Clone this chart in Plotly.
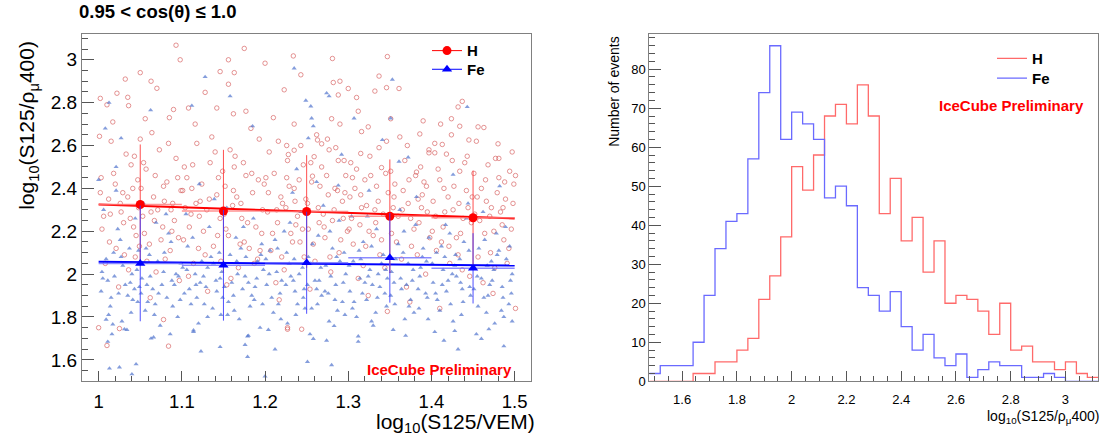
import plotly.graph_objects as go

# ---------------- data: left panel (profile + scatter) ----------------
bin_centers = [1.05, 1.15, 1.25, 1.35, 1.45]
bin_half_width = [0.05, 0.05, 0.05, 0.05, 0.05]
h_mean = [2.325, 2.294, 2.292, 2.270, 2.263]
h_err = [0.280, 0.286, 0.263, 0.265, 0.220]
fe_mean = [2.050, 2.041, 2.053, 2.076, 2.027]
fe_err = [0.270, 0.258, 0.238, 0.209, 0.164]

fit_x = [1.0, 1.5]
h_fit_y = [2.325, 2.260]
fe_fit_y = [2.058, 2.040]

h_points = [
    (1.093, 3.068), (1.098, 3.0), (1.175, 3.053), (1.156, 3.0), (1.05, 2.94), (1.032, 2.91),
    (1.002, 2.82), (1.063, 2.90), (1.07, 2.867), (1.146, 2.945), (1.163, 2.94), (1.156, 2.886),
    (1.128, 2.848), (1.035, 2.825), (1.022, 2.844), (1.036, 2.786), (1.010, 2.79), (1.056, 2.725),
    (1.001, 2.643), (1.05, 2.63), (1.085, 2.73), (1.09, 2.768), (1.108, 2.775), (1.142, 2.775),
    (1.162, 2.748), (1.177, 2.76), (1.2, 2.984), (1.21, 2.73), (1.223, 2.86), (1.234, 3.018),
    (1.235, 2.578), (1.281, 3.006), (1.347, 3.015), (1.243, 2.93), (1.282, 2.894), (1.29, 2.90),
    (1.30, 2.866), (1.337, 2.924), (1.346, 2.87), (1.361, 2.866), (1.332, 2.854), (1.288, 2.836),
    (1.31, 2.824), (1.312, 2.76), (1.28, 2.725), (1.351, 2.725), (1.235, 2.70), (1.29, 2.70),
    (1.324, 2.687), (1.316, 2.665), (1.437, 2.806), (1.432, 2.78), (1.424, 2.725), (1.39, 2.715),
    (1.411, 2.70), (1.434, 2.69), (1.456, 2.687), (1.463, 2.684), (1.445, 2.626), (1.48, 2.608),
    (1.386, 2.654), (1.413, 2.605), (1.397, 2.566), (1.404, 2.566), (1.501, 2.46), (1.481, 2.54),
    (1.382, 2.476), (1.263, 2.626), (1.268, 2.608), (1.226, 2.60), (1.259, 2.548), (1.277, 2.58),
    (1.295, 2.53), (1.303, 2.52), (1.315, 2.563), (1.34, 2.497), (1.257, 2.457), (1.228, 2.558),
    (1.0, 1.75), (1.01, 1.667), (1.084, 1.664), (1.025, 1.746), (1.227, 1.743), (1.078, 1.788),
    (1.227, 1.75), (1.244, 1.743), (1.347, 1.826), (1.41, 1.84), (1.501, 1.84),
    (1.004, 2.21), (1.012, 2.35), (1.018, 2.47), (1.021, 2.12), (1.027, 2.29), (1.033, 2.56),
    (1.036, 2.02), (1.041, 2.40), (1.045, 2.18), (1.048, 2.31), (1.008, 2.05), (1.015, 2.62),
    (1.024, 1.94), (1.030, 2.24), (1.039, 2.51), (1.044, 2.08), (1.002, 2.38), (1.047, 2.44),
    (1.053, 2.27), (1.057, 2.49), (1.061, 2.14), (1.066, 2.36), (1.069, 2.01), (1.073, 2.58),
    (1.077, 2.22), (1.082, 2.43), (1.086, 2.11), (1.089, 2.33), (1.093, 2.54), (1.097, 1.97),
    (1.055, 2.19), (1.064, 2.66), (1.071, 2.30), (1.080, 2.07), (1.091, 2.25), (1.099, 2.39),
    (1.102, 2.16), (1.106, 2.45), (1.111, 2.28), (1.114, 2.05), (1.118, 2.61), (1.122, 2.34),
    (1.126, 2.20), (1.131, 1.92), (1.134, 2.52), (1.138, 2.13), (1.142, 2.37), (1.146, 2.26),
    (1.149, 2.48), (1.104, 2.31), (1.116, 2.70), (1.128, 2.09), (1.140, 2.57), (1.108, 1.99),
    (1.152, 2.41), (1.156, 2.18), (1.161, 2.32), (1.164, 2.55), (1.168, 2.03), (1.172, 2.26),
    (1.177, 2.46), (1.181, 2.12), (1.185, 2.38), (1.189, 2.22), (1.193, 2.63), (1.197, 2.30),
    (1.154, 1.95), (1.163, 2.50), (1.175, 2.15), (1.183, 2.68), (1.191, 2.07), (1.199, 2.42),
    (1.203, 2.29), (1.207, 2.11), (1.211, 2.47), (1.215, 2.24), (1.219, 2.36), (1.223, 2.02),
    (1.227, 2.53), (1.231, 2.19), (1.235, 2.40), (1.239, 2.27), (1.243, 2.60), (1.247, 2.08),
    (1.205, 2.57), (1.213, 1.96), (1.221, 2.33), (1.233, 2.15), (1.241, 2.44), (1.249, 2.35),
    (1.252, 2.21), (1.256, 2.43), (1.260, 2.06), (1.264, 2.31), (1.268, 2.50), (1.272, 2.17),
    (1.276, 2.37), (1.281, 2.25), (1.285, 2.59), (1.289, 2.10), (1.293, 2.34), (1.297, 2.46),
    (1.254, 1.93), (1.262, 2.65), (1.270, 2.28), (1.279, 2.01), (1.287, 2.39), (1.299, 2.20),
    (1.302, 2.36), (1.306, 2.14), (1.310, 2.49), (1.314, 2.23), (1.318, 2.04), (1.322, 2.32),
    (1.326, 2.55), (1.330, 2.18), (1.334, 2.41), (1.338, 2.09), (1.342, 2.28), (1.346, 2.62),
    (1.304, 2.26), (1.312, 1.98), (1.320, 2.44), (1.332, 2.30), (1.340, 2.16), (1.348, 2.38),
    (1.352, 2.19), (1.356, 2.42), (1.360, 2.27), (1.364, 2.07), (1.368, 2.53), (1.372, 2.33),
    (1.376, 2.13), (1.381, 2.46), (1.385, 2.24), (1.389, 2.37), (1.393, 2.00), (1.397, 2.58),
    (1.354, 2.31), (1.362, 2.64), (1.370, 1.94), (1.379, 2.21), (1.387, 2.50), (1.395, 2.29),
    (1.402, 2.34), (1.406, 2.11), (1.410, 2.44), (1.414, 2.22), (1.418, 2.56), (1.422, 2.05),
    (1.426, 2.30), (1.430, 2.17), (1.434, 2.48), (1.438, 2.26), (1.442, 2.39), (1.446, 1.99),
    (1.404, 2.61), (1.412, 2.15), (1.420, 2.36), (1.432, 2.09), (1.440, 2.52), (1.448, 2.24),
    (1.452, 2.28), (1.456, 2.08), (1.460, 2.40), (1.464, 2.19), (1.468, 2.51), (1.472, 2.31),
    (1.476, 2.03), (1.481, 2.45), (1.485, 2.23), (1.489, 2.35), (1.493, 2.12), (1.497, 2.57),
    (1.454, 2.62), (1.462, 1.96), (1.470, 2.27), (1.479, 2.38), (1.487, 2.16), (1.499, 2.42),
    (1.006, 2.27), (1.013, 2.15), (1.020, 2.42), (1.026, 2.33), (1.031, 2.09), (1.038, 2.26),
    (1.043, 2.55), (1.049, 2.13), (1.017, 2.71), (1.035, 2.36),
    (1.051, 2.40), (1.058, 2.06), (1.063, 2.29), (1.068, 2.46), (1.075, 2.16), (1.079, 2.34),
    (1.084, 2.61), (1.088, 2.20), (1.095, 2.45), (1.062, 1.89),
    (1.101, 2.39), (1.109, 2.22), (1.113, 2.51), (1.120, 2.12), (1.124, 2.42), (1.130, 2.30),
    (1.136, 2.64), (1.143, 2.18), (1.147, 2.06), (1.117, 2.33),
    (1.151, 2.28), (1.158, 2.58), (1.166, 2.36), (1.170, 2.14), (1.174, 2.52), (1.179, 2.24),
    (1.187, 2.05), (1.192, 2.44), (1.196, 2.19), (1.159, 1.98),
    (1.201, 2.45), (1.209, 2.19), (1.216, 2.62), (1.220, 2.08), (1.225, 2.31), (1.229, 2.41),
    (1.237, 2.23), (1.242, 2.15), (1.246, 2.51), (1.217, 1.88),
    (1.251, 2.33), (1.258, 2.14), (1.266, 2.41), (1.271, 2.22), (1.275, 2.63), (1.283, 2.30),
    (1.288, 2.53), (1.291, 2.16), (1.296, 2.38), (1.278, 2.08),
    (1.301, 2.21), (1.308, 2.40), (1.316, 2.31), (1.321, 2.13), (1.327, 2.46), (1.333, 2.24),
    (1.337, 2.59), (1.344, 2.03), (1.349, 2.27), (1.324, 1.90),
    (1.351, 2.48), (1.358, 2.15), (1.366, 2.39), (1.371, 2.60), (1.375, 2.26), (1.383, 2.09),
    (1.388, 2.31), (1.391, 2.43), (1.398, 2.17), (1.374, 1.87),
    (1.401, 2.20), (1.408, 2.49), (1.416, 2.29), (1.421, 2.13), (1.427, 2.41), (1.433, 2.33),
    (1.437, 2.02), (1.443, 2.55), (1.449, 2.36), (1.424, 2.65),
    (1.451, 2.47), (1.458, 2.25), (1.466, 2.34), (1.471, 2.10), (1.477, 2.54), (1.483, 2.29),
    (1.488, 2.43), (1.491, 2.05), (1.496, 2.21), (1.474, 1.91),
    (1.003, 2.45), (1.014, 2.28), (1.029, 2.38), (1.042, 2.22), (1.054, 2.52), (1.067, 2.25),
    (1.078, 2.41), (1.087, 2.30), (1.096, 2.17), (1.103, 2.50), (1.112, 2.40), (1.121, 2.27),
    (1.133, 2.35), (1.144, 2.45), (1.153, 2.21), (1.162, 2.39), (1.171, 2.33), (1.184, 2.47),
    (1.194, 2.11), (1.204, 2.38), (1.214, 2.30), (1.226, 2.45), (1.236, 2.34), (1.245, 2.21),
    (1.255, 2.52), (1.265, 2.24), (1.274, 2.46), (1.284, 2.40), (1.294, 2.26), (1.305, 2.45),
    (1.315, 2.37), (1.325, 2.20), (1.336, 2.34), (1.345, 2.47), (1.355, 2.36), (1.365, 2.30),
    (1.373, 2.44), (1.384, 2.35), (1.394, 2.41), (1.405, 2.27), (1.415, 2.40), (1.425, 2.53),
    (1.435, 2.19), (1.444, 2.31), (1.455, 2.36), (1.465, 2.44), (1.475, 2.20), (1.486, 2.31),
    (1.494, 2.48), (1.498, 2.33),
]

fe_points = [
    (1.128, 2.92), (1.158, 2.83), (1.0625, 2.765), (1.0125, 2.80), (1.185, 2.69), (1.235, 2.96),
    (1.112, 2.786), (1.008, 2.68), (1.027, 2.634), (1.021, 2.50), (1.0, 2.44),
    (1.353, 2.908), (1.274, 2.844), (1.277, 2.83), (1.249, 2.81), (1.255, 2.783), (1.256, 2.727),
    (1.258, 2.69), (1.307, 2.727), (1.351, 2.727), (1.443, 2.78), (1.341, 2.626), (1.252, 2.634),
    (1.292, 2.558), (1.372, 2.545), (1.361, 2.525), (1.426, 2.464), (1.238, 2.49), (1.262, 2.43),
    (1.288, 2.414),
    (1.013, 1.56), (1.025, 1.565), (1.04, 1.533), (1.045, 1.58), (1.011, 1.685), (1.179, 1.614),
    (1.2, 1.523), (1.212, 1.649), (1.123, 1.64), (1.146, 1.66), (1.18, 1.713), (1.066, 1.705),
    (1.114, 1.738), (1.009, 1.788), (1.017, 1.766), (1.031, 1.743),
    (1.251, 1.591), (1.28, 1.576), (1.312, 1.685), (1.432, 1.649), (1.46, 1.698), (1.487, 1.664),
    (1.258, 1.698), (1.369, 1.713), (1.428, 1.735), (1.469, 1.743), (1.497, 1.78), (1.283, 1.758),
    (1.328, 1.78),
    (1.003, 1.92), (1.009, 2.07), (1.014, 1.85), (1.019, 1.99), (1.023, 2.21), (1.028, 1.78),
    (1.032, 1.95), (1.037, 2.12), (1.041, 1.88), (1.046, 2.02), (1.006, 2.30), (1.016, 1.72),
    (1.026, 2.16), (1.035, 1.90), (1.044, 2.26), (1.011, 1.97), (1.039, 1.82), (1.049, 1.94),
    (1.052, 1.98), (1.056, 1.83), (1.061, 2.09), (1.065, 1.93), (1.069, 2.24), (1.074, 1.76),
    (1.078, 2.01), (1.082, 1.89), (1.087, 2.15), (1.091, 1.95), (1.095, 1.80), (1.099, 2.05),
    (1.054, 2.33), (1.063, 1.70), (1.072, 1.91), (1.084, 2.19), (1.093, 2.00), (1.059, 1.87),
    (1.103, 1.91), (1.107, 2.13), (1.111, 1.86), (1.116, 2.00), (1.120, 1.77), (1.124, 2.06),
    (1.129, 1.94), (1.133, 2.22), (1.137, 1.84), (1.141, 1.97), (1.145, 2.10), (1.149, 1.89),
    (1.105, 2.28), (1.114, 1.73), (1.122, 1.96), (1.131, 2.03), (1.139, 2.35), (1.147, 1.81),
    (1.152, 2.04), (1.156, 1.87), (1.160, 1.96), (1.165, 2.17), (1.169, 1.79), (1.173, 1.93),
    (1.177, 2.08), (1.182, 1.85), (1.186, 2.26), (1.190, 1.98), (1.194, 1.75), (1.198, 2.02),
    (1.154, 2.31), (1.162, 1.90), (1.171, 2.12), (1.179, 1.71), (1.188, 1.94), (1.196, 2.14),
    (1.202, 1.95), (1.206, 2.11), (1.210, 1.82), (1.214, 2.01), (1.218, 1.91), (1.223, 2.20),
    (1.227, 1.77), (1.231, 1.99), (1.235, 2.07), (1.239, 1.86), (1.243, 2.29), (1.247, 1.93),
    (1.204, 1.74), (1.212, 2.16), (1.220, 1.97), (1.229, 2.05), (1.237, 1.81), (1.245, 2.03),
    (1.252, 2.08), (1.256, 1.84), (1.260, 1.97), (1.264, 2.18), (1.268, 1.90), (1.273, 2.04),
    (1.277, 1.78), (1.281, 2.12), (1.285, 1.95), (1.289, 2.25), (1.293, 1.87), (1.297, 2.00),
    (1.254, 1.72), (1.262, 1.93), (1.270, 2.32), (1.279, 1.99), (1.287, 1.83), (1.295, 2.10),
    (1.302, 1.92), (1.306, 2.06), (1.310, 1.80), (1.314, 1.98), (1.318, 2.15), (1.322, 1.88),
    (1.326, 2.02), (1.330, 1.76), (1.334, 2.21), (1.338, 1.94), (1.342, 2.09), (1.346, 1.85),
    (1.304, 2.27), (1.312, 1.71), (1.320, 1.96), (1.328, 2.13), (1.336, 2.00), (1.344, 1.91),
    (1.352, 2.01), (1.356, 1.86), (1.360, 2.14), (1.364, 1.93), (1.368, 1.79), (1.372, 2.05),
    (1.377, 1.97), (1.381, 2.23), (1.385, 1.84), (1.389, 2.08), (1.393, 1.91), (1.397, 2.17),
    (1.354, 1.74), (1.362, 2.30), (1.370, 1.95), (1.379, 1.82), (1.387, 2.03), (1.395, 1.89),
    (1.402, 1.96), (1.406, 2.10), (1.410, 1.83), (1.414, 2.02), (1.418, 1.92), (1.422, 2.19),
    (1.426, 1.78), (1.430, 1.99), (1.434, 2.07), (1.438, 1.87), (1.442, 2.26), (1.446, 1.94),
    (1.404, 1.73), (1.412, 2.13), (1.420, 1.97), (1.428, 2.04), (1.436, 1.81), (1.444, 2.33),
    (1.452, 2.03), (1.456, 1.85), (1.460, 1.98), (1.464, 2.16), (1.468, 1.90), (1.472, 2.06),
    (1.476, 1.77), (1.481, 2.11), (1.485, 1.94), (1.489, 2.22), (1.493, 1.86), (1.497, 2.00),
    (1.454, 1.72), (1.462, 2.29), (1.470, 1.95), (1.479, 2.09), (1.487, 1.80), (1.495, 1.97),
    (1.005, 1.98), (1.012, 1.81), (1.018, 2.10), (1.024, 1.91), (1.029, 2.04), (1.034, 1.74),
    (1.040, 2.00), (1.047, 1.87), (1.021, 2.39), (1.043, 1.93),
    (1.051, 1.91), (1.057, 2.12), (1.062, 1.99), (1.067, 1.81), (1.071, 2.06), (1.076, 1.95),
    (1.081, 2.28), (1.089, 1.85), (1.096, 1.99), (1.086, 1.72),
    (1.101, 2.03), (1.109, 1.93), (1.113, 2.17), (1.118, 1.89), (1.126, 1.99), (1.131, 1.80),
    (1.135, 2.08), (1.142, 1.92), (1.148, 2.01), (1.121, 2.42),
    (1.151, 1.94), (1.158, 2.09), (1.163, 1.83), (1.167, 2.00), (1.174, 2.22), (1.180, 1.96),
    (1.184, 1.90), (1.191, 2.06), (1.197, 1.86), (1.176, 1.67),
    (1.201, 2.07), (1.208, 1.89), (1.215, 2.12), (1.219, 1.79), (1.225, 1.95), (1.230, 2.24),
    (1.236, 1.92), (1.241, 2.00), (1.248, 1.84), (1.233, 2.38),
    (1.251, 1.95), (1.257, 2.14), (1.263, 1.86), (1.267, 2.03), (1.272, 1.92), (1.278, 2.20),
    (1.284, 1.88), (1.290, 2.06), (1.296, 1.81), (1.274, 1.69),
    (1.301, 2.04), (1.307, 1.87), (1.313, 2.11), (1.317, 1.91), (1.323, 2.27), (1.329, 1.95),
    (1.333, 1.82), (1.340, 2.05), (1.347, 1.98), (1.325, 2.39),
    (1.351, 1.90), (1.357, 2.07), (1.363, 1.98), (1.367, 2.20), (1.373, 1.85), (1.378, 2.02),
    (1.384, 1.93), (1.390, 2.12), (1.396, 1.79), (1.382, 2.36),
    (1.401, 2.05), (1.407, 1.88), (1.413, 1.95), (1.417, 2.23), (1.423, 1.86), (1.429, 2.09),
    (1.435, 1.96), (1.439, 2.15), (1.447, 1.90), (1.415, 1.69),
    (1.451, 1.93), (1.457, 2.12), (1.463, 1.89), (1.467, 2.04), (1.473, 1.97), (1.478, 2.19),
    (1.484, 1.83), (1.490, 2.07), (1.496, 1.91), (1.482, 2.41),
    (1.004, 2.01), (1.015, 1.89), (1.027, 2.08), (1.038, 1.96), (1.048, 2.11), (1.058, 1.95),
    (1.068, 1.86), (1.079, 2.10), (1.088, 1.97), (1.098, 1.88), (1.106, 2.02), (1.117, 1.95),
    (1.127, 1.86), (1.138, 2.05), (1.146, 1.98), (1.155, 1.81), (1.166, 2.06), (1.176, 1.99),
    (1.187, 1.88), (1.195, 2.09), (1.205, 2.00), (1.216, 1.86), (1.226, 2.10), (1.234, 1.97),
    (1.246, 1.89), (1.255, 2.05), (1.265, 1.97), (1.276, 1.91), (1.286, 2.08), (1.294, 1.96),
    (1.305, 1.84), (1.315, 2.07), (1.324, 1.99), (1.335, 1.89), (1.345, 2.02), (1.355, 1.96),
    (1.366, 2.10), (1.375, 1.88), (1.386, 1.99), (1.394, 2.06), (1.405, 1.91), (1.416, 2.08),
    (1.425, 2.00), (1.437, 1.93), (1.445, 2.11), (1.455, 1.99), (1.466, 1.82), (1.475, 2.02),
    (1.486, 1.89), (1.494, 2.13),
]

# ---------------- data: right panel (histograms) ----------------
hist_edges_start = 1.48
hist_bin_width = 0.04
h_counts = [0, 0, 0, 0, 2, 2, 5, 5, 8, 11, 21, 27, 37, 55, 49, 58, 68, 71, 66, 76, 68, 43, 52,
            36, 42, 28, 36, 20, 22, 21, 18, 12, 20, 8, 9, 5, 5, 3, 5, 2, 1]
fe_counts = [2, 4, 4, 4, 10, 22, 34, 41, 43, 57, 74, 86, 62, 69, 66, 62, 47, 50, 45, 24, 22, 18,
             23, 14, 8, 12, 6, 4, 7, 1, 3, 5, 4, 4, 1, 1, 2, 1, 0, 0, 0]

# ---------------- styling ----------------
RED = "#ff0000"
BLUE = "#0000ff"
H_SCAT = "rgba(215,95,95,0.75)"
FE_SCAT = "rgba(80,115,205,0.7)"
H_HIST = "#ff6a6a"
FE_HIST = "#6a6aff"
FONT = "Liberation Sans"
W, H = 1105, 443

def px(v):
    return v / W

def py(v):
    return 1 - v / H

fig = go.Figure()

# scatter clouds
fig.add_trace(go.Scatter(
    x=[p[0] for p in h_points], y=[p[1] for p in h_points], mode="markers",
    marker=dict(symbol="circle-open", size=4.5, color=H_SCAT, line=dict(width=0.9)),
    showlegend=False, hoverinfo="skip", xaxis="x", yaxis="y"))
fig.add_trace(go.Scatter(
    x=[p[0] for p in fe_points], y=[p[1] for p in fe_points], mode="markers",
    marker=dict(symbol="triangle-up", size=4.5, color=FE_SCAT),
    showlegend=False, hoverinfo="skip", xaxis="x", yaxis="y"))

# fit lines
fig.add_trace(go.Scatter(x=fit_x, y=h_fit_y, mode="lines", line=dict(color=RED, width=2),
                         showlegend=False, xaxis="x", yaxis="y"))
fig.add_trace(go.Scatter(x=fit_x, y=fe_fit_y, mode="lines", line=dict(color=BLUE, width=2),
                         showlegend=False, xaxis="x", yaxis="y"))

# profiles
fig.add_trace(go.Scatter(
    x=bin_centers, y=h_mean, mode="markers",
    marker=dict(symbol="circle", size=9, color=RED),
    error_y=dict(type="data", array=h_err, color="rgba(255,60,60,0.9)", thickness=1, width=0),
    error_x=dict(type="data", array=bin_half_width, color="rgba(255,120,120,0.8)", thickness=1.5, width=0),
    showlegend=False, xaxis="x", yaxis="y"))
fig.add_trace(go.Scatter(
    x=bin_centers, y=fe_mean, mode="markers",
    marker=dict(symbol="triangle-up", size=9, color=BLUE),
    error_y=dict(type="data", array=fe_err, color="rgba(60,60,255,0.9)", thickness=1, width=0),
    error_x=dict(type="data", array=bin_half_width, color="rgba(110,110,255,0.8)", thickness=1.5, width=0),
    showlegend=False, xaxis="x", yaxis="y"))

# left legend entries (one legend box per entry for exact spacing)
fig.add_trace(go.Scatter(x=[None], y=[None], mode="lines+markers", name="H",
                         marker=dict(symbol="circle", size=9, color=RED),
                         line=dict(color=RED, width=1), legend="legend", xaxis="x", yaxis="y"))
fig.add_trace(go.Scatter(x=[None], y=[None], mode="lines+markers", name="Fe",
                         marker=dict(symbol="triangle-up", size=9, color=BLUE),
                         line=dict(color=BLUE, width=1), legend="legend3", xaxis="x", yaxis="y"))

# histograms as steps
edges = [round(hist_edges_start + i * hist_bin_width, 4) for i in range(len(h_counts) + 1)]
fig.add_trace(go.Scatter(x=edges, y=h_counts + [h_counts[-1]], mode="lines", line_shape="hv",
                         line=dict(color=H_HIST, width=1.3), name="H", legend="legend2",
                         xaxis="x2", yaxis="y2"))
fig.add_trace(go.Scatter(x=edges, y=fe_counts + [fe_counts[-1]], mode="lines", line_shape="hv",
                         line=dict(color=FE_HIST, width=1.3), name="Fe", legend="legend4",
                         xaxis="x2", yaxis="y2"))

axis_common = dict(showline=True, linecolor="#808080", linewidth=1, mirror=True,
                   ticks="inside", tickcolor="#555555", showgrid=False, zeroline=False)

legend_font = dict(family=FONT, size=15, weight="bold", color="black")

def legend_box(x, y):
    return dict(x=px(x), y=py(y), xanchor="left", yanchor="top", bgcolor="rgba(0,0,0,0)",
                font=legend_font, tracegroupgap=0)

fig.update_layout(
    width=W, height=H, autosize=False,
    margin=dict(l=0, r=0, t=0, b=0),
    paper_bgcolor="white", plot_bgcolor="white",
    font=dict(family=FONT, color="black"),
    xaxis=dict(domain=[px(82), px(531.3)], range=[0.98, 1.52], tick0=1.0, dtick=0.1, ticklen=10,
               minor=dict(dtick=0.02, ticklen=5, ticks="inside", tickcolor="#555555"),
               anchor="y", ticklabelstandoff=4,
               tickfont=dict(family=FONT, color="black", size=18.5), **axis_common),
    yaxis=dict(domain=[py(388.3), py(34.7)], range=[1.5, 3.12], tick0=1.6, dtick=0.2, ticklen=12,
               minor=dict(dtick=0.05, ticklen=6, ticks="inside", tickcolor="#555555"),
               anchor="x", tickfont=dict(family=FONT, color="black", size=19), **axis_common),
    xaxis2=dict(domain=[px(649.3), px(1098.3)], range=[1.48, 3.12], tick0=1.6, dtick=0.2, ticklen=10,
                minor=dict(dtick=0.05, ticklen=5, ticks="inside", tickcolor="#555555"),
                anchor="y2", ticklabelstandoff=6,
                tickfont=dict(family=FONT, color="black", size=13), **axis_common),
    yaxis2=dict(domain=[py(388.3), py(34.7)], range=[0, 89], tick0=0, dtick=10, ticklen=12,
                minor=dict(dtick=2, ticklen=6, ticks="inside", tickcolor="#555555"),
                anchor="x2", tickfont=dict(family=FONT, color="black", size=13), **axis_common),
    legend=legend_box(427, 35),
    legend3=legend_box(427, 54),
    legend2=legend_box(992, 43),
    legend4=legend_box(992, 63),
    showlegend=True,
)

ann = [
    dict(text="0.95 < cos(θ) ≤ 1.0", x=px(77), y=py(12), xanchor="left", yanchor="middle",
         font=dict(family=FONT, size=18.5, weight="bold")),
    dict(text="log<sub>10</sub>(S125/ρ<sub>μ</sub>400)", x=px(28), y=py(40), xanchor="center",
         yanchor="top", textangle=-90, font=dict(family=FONT, size=21)),
    dict(text="log<sub>10</sub>(S125/VEM)", x=px(374), y=py(431), xanchor="left", yanchor="middle",
         font=dict(family=FONT, size=21)),
    dict(text="IceCube Preliminary", x=px(439), y=py(376), xanchor="center", yanchor="middle",
         font=dict(family=FONT, size=15, weight="bold", color=RED)),
    dict(text="Number of events", x=px(614), y=py(35), xanchor="center", yanchor="top",
         textangle=-90, font=dict(family=FONT, size=14)),
    dict(text="log<sub>10</sub>(S125/ρ<sub>μ</sub>400)", x=px(985), y=py(425), xanchor="left",
         yanchor="middle", font=dict(family=FONT, size=14)),
    dict(text="IceCube Preliminary", x=px(1011.5), y=py(107), xanchor="center", yanchor="middle",
         font=dict(family=FONT, size=15, weight="bold", color=RED)),
]
for a in ann:
    a.update(xref="paper", yref="paper", showarrow=False)
fig.update_layout(annotations=ann)

fig.write_html("out.html", config={"displayModeBar": False},
               post_script="document.body.style.margin='0';document.body.style.overflow='hidden';")
